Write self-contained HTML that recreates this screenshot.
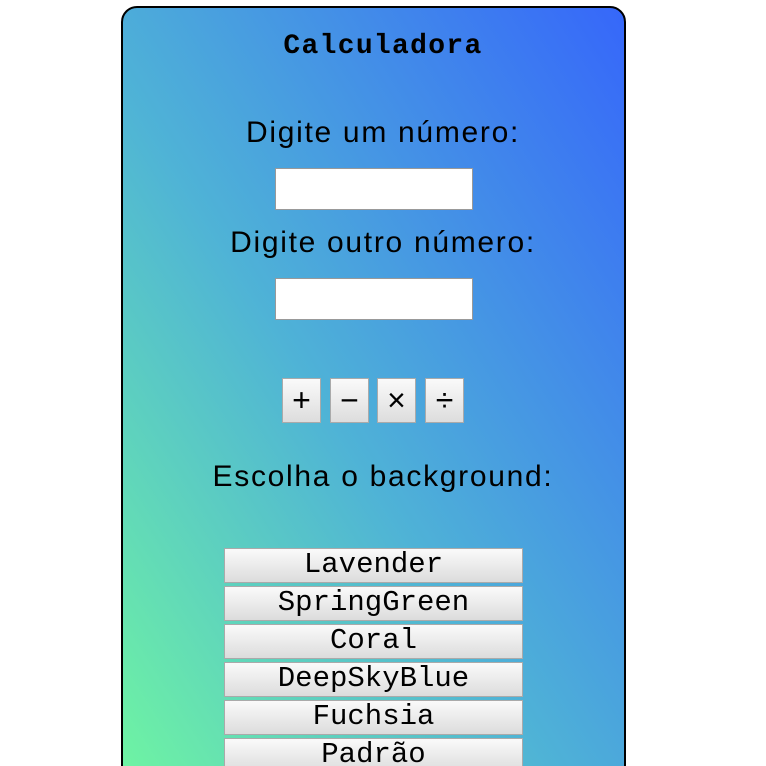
<!DOCTYPE html>
<html><head><meta charset="utf-8"><style>
html,body{margin:0;width:766px;height:766px;overflow:hidden}
body{background:#fff;position:relative;font-family:"Liberation Sans",sans-serif}
.card{position:absolute;left:121px;top:6px;width:501px;height:800px;border:2px solid #000;border-radius:16px;background:linear-gradient(to top right,#70f7a0 0%,#4fb3d6 45%,#3667fa 100%)}
.t{position:absolute;left:0;width:766px;text-align:center;color:#000}
.lab{font-size:30px;letter-spacing:1.7px}
.mono{font-family:"Liberation Mono","DejaVu Sans Mono",monospace}
.in{position:absolute;left:275px;width:196px;height:40px;background:#fff;border:1px solid #999}
.op{position:absolute;top:378px;width:37px;height:43px;border:1px solid #aaa;background:linear-gradient(#fafafa,#ddd);font-size:32px;text-align:center;line-height:43px}
.cb{position:absolute;left:224px;width:297px;height:33px;border:1px solid #aaa;background:linear-gradient(#fafafa,#dcdcdc);font-size:29px;text-align:center;line-height:32px}
</style></head><body>
<div class="card"></div>
<div class="t mono" style="top:31px;font-size:28px;font-weight:bold;letter-spacing:1.3px">Calculadora</div>
<div class="t lab" style="top:116px">Digite um número:</div>
<div class="in" style="top:168px"></div>
<div class="t lab" style="top:226px">Digite outro número:</div>
<div class="in" style="top:278px"></div>
<div class="op" style="left:282px">+</div>
<div class="op" style="left:330px">−</div>
<div class="op" style="left:377px">×</div>
<div class="op" style="left:425px">÷</div>
<div class="t lab" style="top:460px">Escolha o background:</div>
<div class="cb mono" style="top:548px">Lavender</div>
<div class="cb mono" style="top:586px">SpringGreen</div>
<div class="cb mono" style="top:624px">Coral</div>
<div class="cb mono" style="top:662px">DeepSkyBlue</div>
<div class="cb mono" style="top:700px">Fuchsia</div>
<div class="cb mono" style="top:738px">Padrão</div>
</body></html>
